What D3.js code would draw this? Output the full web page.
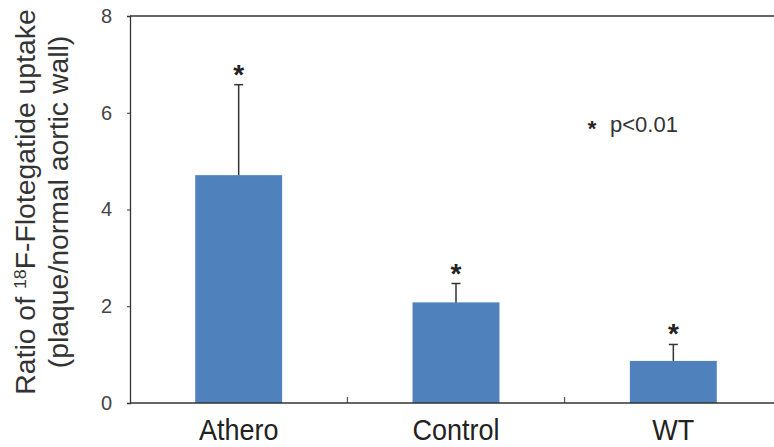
<!DOCTYPE html>
<html>
<head>
<meta charset="utf-8">
<script src="https://cdn.jsdelivr.net/npm/d3@7"></script>
<style>
  body { margin: 0; background: #fff; }
  text { font-family: "Liberation Sans", Arial, sans-serif; }
</style>
</head>
<body>
<div id="chart"></div>
<script>
// datos del grafico
const groups = ["Athero", "Control", "WT"];
const means = [4.71, 2.08, 0.87];
const errors = [1.87, 0.39, 0.34];
const yTickValues = [0, 2, 4, 6, 8];
const noteText = "p<0.01";

const W = 774, H = 447;
const margin = { top: 16, right: -8, bottom: 44, left: 130 };
const width = W - margin.left - margin.right;
const height = H - margin.top - margin.bottom;

const svg = d3.select("#chart")
  .append("svg")
  .attr("width", W)
  .attr("height", H)
  .append("g")
  .attr("transform", `translate(${margin.left},${margin.top})`);

// escalas
const x = d3.scaleBand().domain(groups).range([0, width])
  .paddingInner(0.6).paddingOuter(0.3);
const y = d3.scaleLinear().domain([0, 8]).range([height, 0]);

const axisColor = "#333";

// eje y
const yAxis = svg.append("g")
  .call(d3.axisLeft(y).tickValues(yTickValues).tickSize(3).tickPadding(15));
yAxis.select(".domain").attr("stroke", axisColor).attr("stroke-width", 1.3);
yAxis.selectAll(".tick line").attr("stroke", axisColor);
yAxis.selectAll(".tick text")
  .attr("fill", "#444")
  .style("font-size", "20px");

// linea de arriba
svg.append("line")
  .attr("x1", 0).attr("x2", width)
  .attr("y1", y(8)).attr("y2", y(8))
  .attr("stroke", axisColor).attr("stroke-width", 1.3);

// barras
svg.selectAll(".bar")
  .data(groups)
  .enter().append("rect")
  .attr("x", d => x(d))
  .attr("y", (d, i) => y(means[i]))
  .attr("width", x.bandwidth())
  .attr("height", (d, i) => y(0) - y(means[i]))
  .attr("fill", "#4F81BD");

// barras de error (solo hacia arriba)
const cx = d => x(d) + x.bandwidth() / 2;
svg.selectAll(".err")
  .data(groups)
  .enter().append("line")
  .attr("x1", cx).attr("x2", cx)
  .attr("y1", (d, i) => y(means[i]))
  .attr("y2", (d, i) => y(means[i] + errors[i]))
  .attr("stroke", "#333").attr("stroke-width", 1.5);
svg.selectAll(".cap")
  .data(groups)
  .enter().append("line")
  .attr("x1", d => cx(d) - 4.5).attr("x2", d => cx(d) + 4.5)
  .attr("y1", (d, i) => y(means[i] + errors[i]))
  .attr("y2", (d, i) => y(means[i] + errors[i]))
  .attr("stroke", "#333").attr("stroke-width", 1.5);

// asteriscos
svg.selectAll(".star")
  .data(groups)
  .enter().append("text")
  .attr("x", cx)
  .attr("y", (d, i) => y(means[i] + errors[i]) - 1)
  .attr("text-anchor", "middle")
  .attr("fill", "#222")
  .style("font-size", "28px")
  .style("font-weight", "bold")
  .text("*");

// eje x
svg.append("line")
  .attr("x1", 0).attr("x2", width)
  .attr("y1", height).attr("y2", height)
  .attr("stroke", axisColor).attr("stroke-width", 1.3);
// marcas entre grupos
svg.selectAll(".xtick")
  .data(groups.slice(1))
  .enter().append("line")
  .attr("x1", (d, i) => (i + 1) * x.step())
  .attr("x2", (d, i) => (i + 1) * x.step())
  .attr("y1", height).attr("y2", height - 6)
  .attr("stroke", axisColor);

// etiquetas un poco estiradas en vertical como en la imagen
svg.selectAll(".xlabel")
  .data(groups)
  .enter().append("text")
  .attr("transform", d => `translate(${cx(d)},${height + 37}) scale(1,1.1)`)
  .attr("text-anchor", "middle")
  .attr("fill", "#222")
  .style("font-size", "27px")
  .text(d => d);

// nota de significancia
svg.append("text")
  .attr("x", 462)
  .attr("y", 120)
  .attr("text-anchor", "middle")
  .attr("fill", "#222")
  .style("font-size", "22px")
  .style("font-weight", "bold")
  .text("*");
svg.append("text")
  .attr("x", 480)
  .attr("y", 116)
  .attr("fill", "#333")
  .style("font-size", "22px")
  .text(noteText);

// titulo del eje y (dos lineas)
const titleY = 186;
const title = svg.append("text")
  .attr("transform", `translate(-95,${titleY}) rotate(-90) scale(1.05,1)`)
  .attr("text-anchor", "middle")
  .attr("fill", "#333")
  .style("font-size", "27px");
title.append("tspan").attr("x", 0).attr("y", 0).text("Ratio of ");
title.append("tspan").attr("dy", -9).style("font-size", "17px").text("18");
title.append("tspan").attr("dy", 9).text("F-Flotegatide uptake");

svg.append("text")
  .attr("transform", `translate(-62,${titleY}) rotate(-90) scale(1.05,1)`)
  .attr("text-anchor", "middle")
  .attr("fill", "#333")
  .style("font-size", "27px")
  .text("(plaque/normal aortic wall)");
</script>
</body>
</html>
